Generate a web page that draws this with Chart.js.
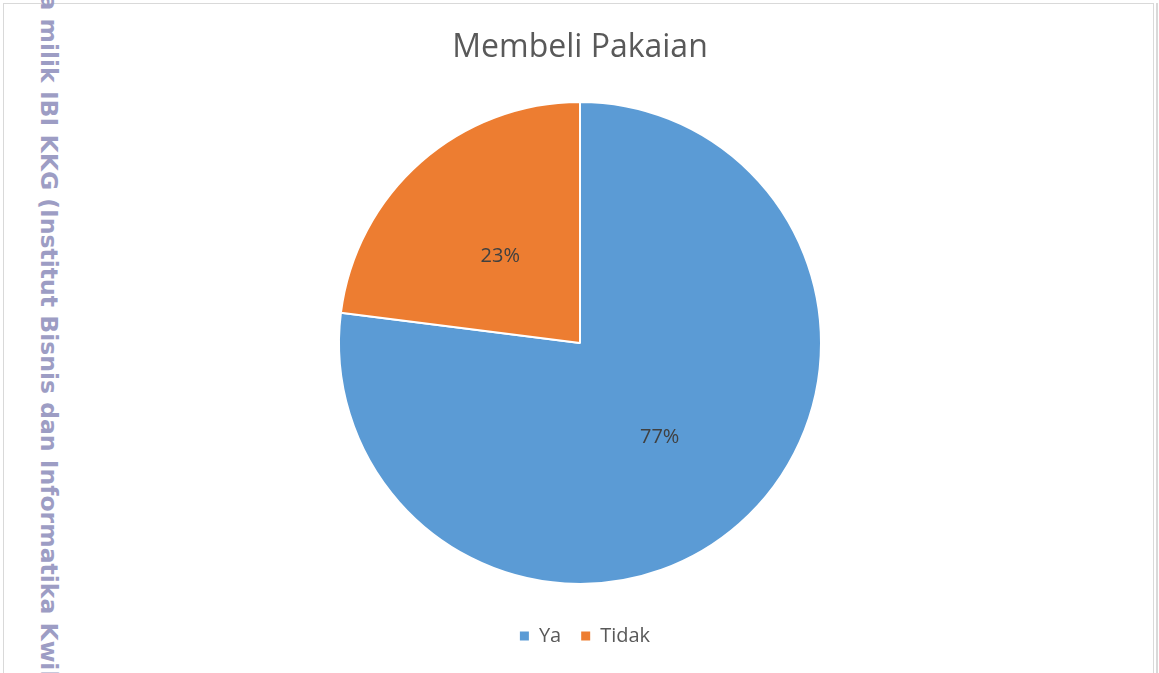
<!DOCTYPE html>
<html>
<head>
<meta charset="utf-8">
<script src="https://cdn.jsdelivr.net/npm/chart.js@4"></script>
<style>
  html, body { margin: 0; padding: 0; background: #fff; overflow: hidden; }
  #wrap { position: relative; width: 1159px; height: 673px; }
  #frame { position: absolute; left: 3px; top: 3px; width: 1151px; height: 700px; border: 1px solid #d9d9d9; box-sizing: border-box; }
  #edge { position: absolute; left: 1156px; top: 3px; width: 2px; height: 700px; border-left: 1px solid #d9d9d9; border-right: 1px solid #d9d9d9; box-sizing: border-box; }
  #mark { position: absolute; left: 0; top: 0; white-space: nowrap; font: bold 23.5px "DejaVu Sans"; line-height: 1; color: #9d9dc4;
          transform-origin: 0 0; transform: translate(59.5px, -115px) rotate(90deg); }
  canvas { position: absolute; left: 0; top: 0; }
</style>
</head>
<body>
<div id="wrap">
  <div id="frame"></div>
  <div id="edge"></div>
  <div id="mark">Hak cipta milik IBI KKG (Institut Bisnis dan Informatika Kwik Kian Gie)</div>
  <canvas id="pieChart" width="1159" height="673"></canvas>
</div>
<script>
const titleText = 'Membeli Pakaian';
const labels = ['Ya', 'Tidak'];
const values = [77, 23]; // persen
const colors = ['#5B9BD5', '#ED7D31'];

// label persen di tengah tiap potongan
const sliceLabels = {
  id: 'sliceLabels',
  afterDatasetsDraw(chart) {
    const ctx = chart.ctx;
    const total = values.reduce((a, b) => a + b, 0);
    ctx.save();
    ctx.font = '20px "Open Sans"';
    ctx.fillStyle = '#404040';
    ctx.textAlign = 'center';
    ctx.textBaseline = 'middle';
    chart.getDatasetMeta(0).data.forEach((arc, i) => {
      const pos = arc.tooltipPosition();
      ctx.fillText(Math.round(values[i] / total * 100) + '%', pos.x, pos.y + 4);
    });
    ctx.restore();
  }
};

// geser legenda sedikit ke kanan seperti aslinya
const legendNudge = {
  id: 'legendNudge',
  afterLayout(chart) {
    chart.legend.left += 5;
    chart.legend.right += 5;
  }
};

new Chart(document.getElementById('pieChart'), {
  type: 'pie',
  data: {
    labels: labels,
    datasets: [{
      data: values,
      backgroundColor: colors,
      borderColor: '#ffffff',
      borderWidth: 2
    }]
  },
  options: {
    responsive: false,
    animation: false,
    layout: { padding: { left: 338, right: 337, top: 0, bottom: 17 } },
    plugins: {
      title: {
        display: true,
        text: titleText,
        color: '#595959',
        font: { family: 'Open Sans', size: 32, weight: 'normal' },
        padding: { top: 29, bottom: 12.6 }
      },
      legend: {
        position: 'bottom',
        labels: {
          boxWidth: 9,
          boxHeight: 9,
          padding: 20,
          color: '#595959',
          font: { family: 'Open Sans', size: 20 },
          generateLabels(chart) {
            return Chart.overrides.pie.plugins.legend.labels.generateLabels(chart)
              .map(item => Object.assign(item, { lineWidth: 0 }));
          }
        }
      },
      tooltip: { enabled: false }
    }
  },
  plugins: [sliceLabels, legendNudge]
});
</script>
</body>
</html>
